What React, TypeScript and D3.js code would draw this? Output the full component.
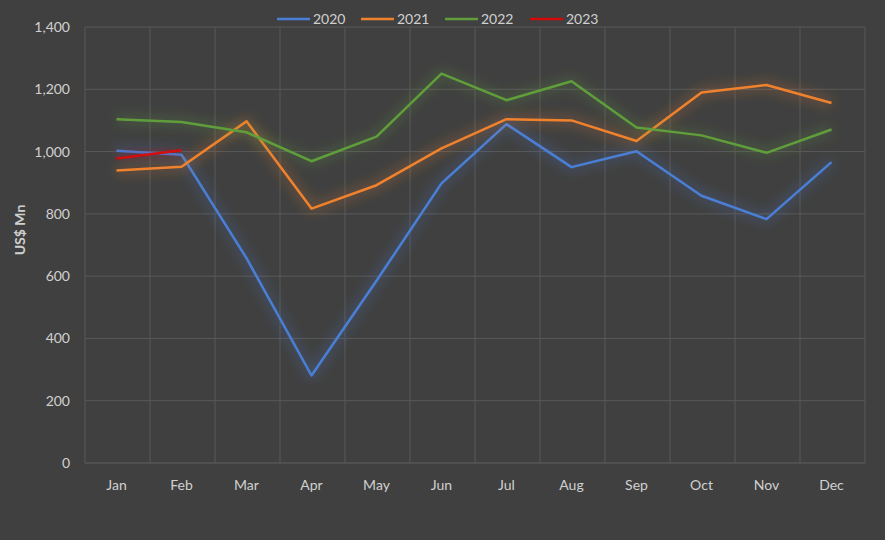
import React from "react";
import * as d3 from "d3";

const months = ["Jan","Feb","Mar","Apr","May","Jun","Jul","Aug","Sep","Oct","Nov","Dec"];
const yTicks = [0,200,400,600,800,1000,1200,1400];
const s2020 = [1003, 990, 658, 281, 585, 898, 1088, 950, 1001, 858, 783, 966];
const s2021 = [939, 951, 1097, 817, 892, 1010, 1104, 1100, 1034, 1190, 1214, 1156];
const s2022 = [1104, 1095, 1062, 969, 1048, 1250, 1165, 1226, 1077, 1052, 996, 1071];
const s2023 = [978, 1004];
const seriesNames = ["2020","2021","2022","2023"];
const seriesColors = ["#4a7fd6","#f0822e","#5f9e3a","#d40a0a"];

export default function App() {
  const W = 885, H = 540;
  const left = 85, right = 865, top = 27, bottom = 463;
  const x = d3.scaleBand<string>().domain(months).range([left, right]);
  const y = d3.scaleLinear().domain([0, 1400]).range([bottom, top]);
  const series = [s2020, s2021, s2022, s2023];
  const line = d3.line<number>().x((_, i) => (x(months[i]) as number) + x.bandwidth() / 2 - 1).y(d => y(d));
  const font = "Lato, 'Open Sans', sans-serif";
  const legendX = [277, 361, 445, 530];
  return (
    <svg width={W} height={H} style={{ position: "absolute", left: 0, top: 0, background: "#404040" }}>
      <defs>
        <filter id="glow" x="-20%" y="-30%" width="140%" height="160%">
          <feGaussianBlur in="SourceGraphic" stdDeviation="6.5" result="b" />
          <feComponentTransfer in="b" result="b2"><feFuncA type="linear" slope="0.9" /></feComponentTransfer>
          <feMerge><feMergeNode in="b2" /><feMergeNode in="SourceGraphic" /></feMerge>
        </filter>
      </defs>
      <rect x={0} y={0} width={W} height={H} fill="#404040" />
      {yTicks.map(t => (
        <g key={t}>
          {t > 0 && <line x1={left} x2={right} y1={y(t)} y2={y(t)} stroke="#595959" strokeWidth={1} />}
          <text x={70} y={y(t) + 5} textAnchor="end" fill="#d0d0d0" fontSize={14} fontFamily={font}>{d3.format(",")(t)}</text>
        </g>
      ))}
      {months.map(m => (
        <line key={m} x1={(x(m) as number)} x2={(x(m) as number)} y1={top} y2={bottom} stroke="#595959" />
      ))}
      <line x1={right} x2={right} y1={top} y2={bottom} stroke="#595959" />
      <line x1={left} x2={right} y1={bottom} y2={bottom} stroke="#5f5f5f" />
      {months.map(m => (
        <text key={m} x={(x(m) as number) + x.bandwidth() / 2 - 1} y={490} textAnchor="middle" fill="#d0d0d0" fontSize={14} fontFamily={font}>{m}</text>
      ))}
      <text transform={`translate(25,${230}) rotate(-90)`} textAnchor="middle" fill="#d0d0d0" fontSize={14} fontWeight="bold" fontFamily={font}>US$ Mn</text>
      {series.map((s, i) => (
        <path key={i} d={line(s) as string} fill="none" stroke={seriesColors[i]} strokeWidth={2.5} strokeLinejoin="round" filter="url(#glow)" />
      ))}
      {seriesNames.map((n, i) => (
        <g key={n}>
          <line x1={legendX[i]} x2={legendX[i] + 33} y1={19} y2={19} stroke={seriesColors[i]} strokeWidth={2.5} />
          <text x={legendX[i] + 36} y={24} fill="#d0d0d0" fontSize={14} fontFamily={font}>{n}</text>
        </g>
      ))}
    </svg>
  );
}
